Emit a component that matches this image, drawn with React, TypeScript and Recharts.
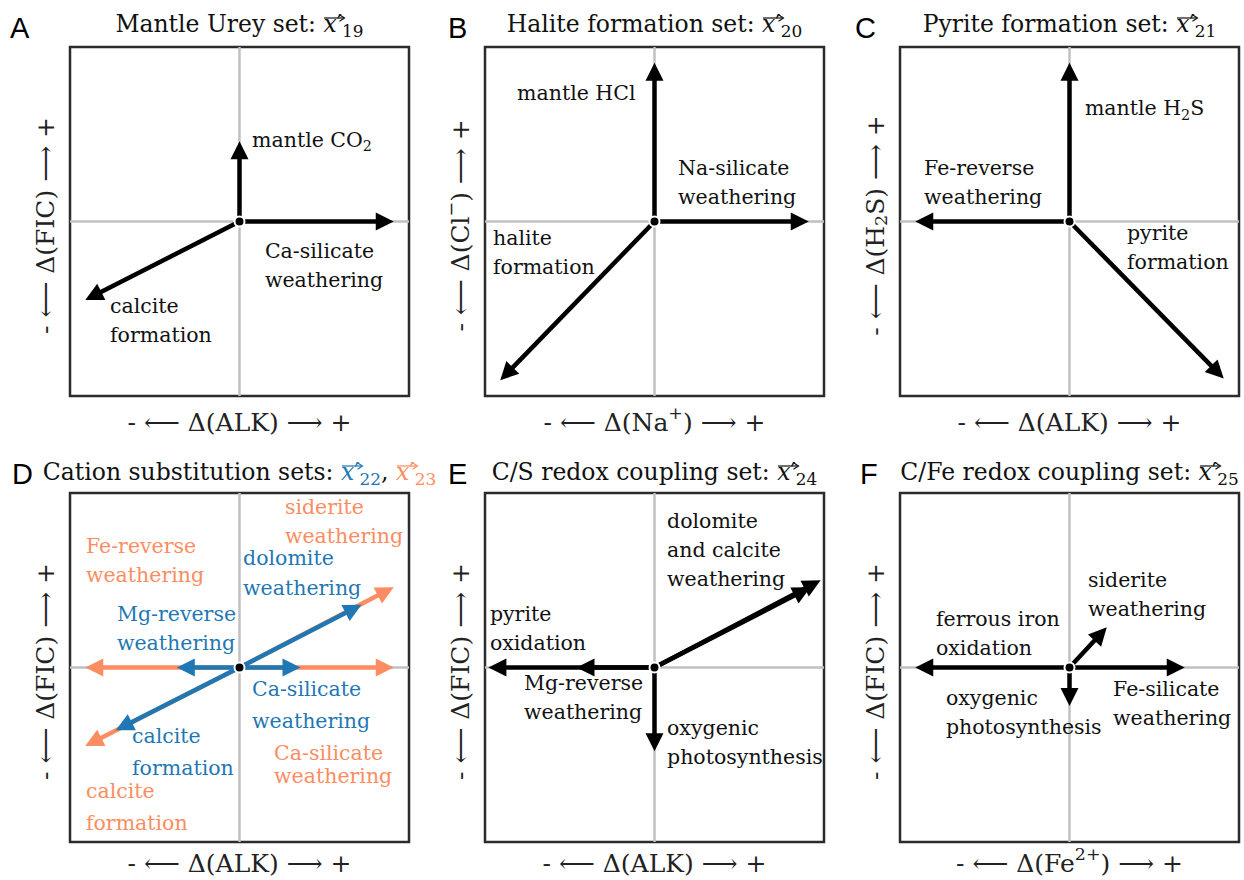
import React from 'react';
import { ScatterChart, Scatter, XAxis, YAxis, ReferenceLine, ReferenceArea } from 'recharts';

const SERIF = "'DejaVu Serif', serif";
const SANS = "'Liberation Sans', 'DejaVu Sans', Arial, sans-serif";
const INK = '#111111';
const BLUE = '#1f77b4';
const ORANGE = '#fc8d62';
const GRID = '#c0c0c0';

const CHART_W = 415;
const CHART_H = 436;
const LABEL_FS = 20.5;
const TITLE_FS = 23.5;
const AXIS_FS = 25;

// process vectors, both axes scaled to [-1, 1]
const mantleUrey = [
  { name: 'mantle CO2', x: 0, y: 0.46 },
  { name: 'Ca-silicate weathering', x: 0.91, y: 0 },
  { name: 'calcite formation', x: -0.91, y: -0.45 },
];
const haliteFormation = [
  { name: 'mantle HCl', x: 0, y: 0.91 },
  { name: 'Na-silicate weathering', x: 0.91, y: 0 },
  { name: 'halite formation', x: -0.91, y: -0.91 },
];
const pyriteFormation = [
  { name: 'mantle H2S', x: 0, y: 0.91 },
  { name: 'Fe-reverse weathering', x: -0.91, y: 0 },
  { name: 'pyrite formation', x: 0.91, y: -0.9 },
];
const cationSub22 = [
  { name: 'dolomite weathering', x: 0.72, y: 0.36 },
  { name: 'Mg-reverse weathering', x: -0.37, y: 0 },
  { name: 'Ca-silicate weathering', x: 0.36, y: 0 },
  { name: 'calcite formation', x: -0.73, y: -0.36 },
];
const cationSub23 = [
  { name: 'siderite weathering', x: 0.91, y: 0.46 },
  { name: 'Fe-reverse weathering', x: -0.91, y: 0 },
  { name: 'Ca-silicate weathering', x: 0.91, y: 0 },
  { name: 'calcite formation', x: -0.91, y: -0.45 },
];
const csRedox = [
  { name: 'pyrite oxidation', x: -0.98, y: 0 },
  { name: 'Mg-reverse weathering', x: -0.46, y: 0 },
  { name: 'oxygenic photosynthesis', x: 0, y: -0.48 },
  { name: 'calcite weathering', x: 0.92, y: 0.46 },
  { name: 'dolomite weathering', x: 0.98, y: 0.5 },
];
const cfeRedox = [
  { name: 'ferrous iron oxidation', x: -0.91, y: 0 },
  { name: 'Fe-silicate weathering', x: 0.68, y: 0 },
  { name: 'oxygenic photosynthesis', x: 0, y: -0.22 },
  { name: 'siderite weathering', x: 0.22, y: 0.23 },
];

const origin = [{ x: 0, y: 0 }];

// text annotations (anchor = left end of first baseline, in data units)
const labelsA = [
  { lines: ['mantle CO_{2}'], x: 0.074, y: 0.427 },
  { lines: ['Ca-silicate', 'weathering'], x: 0.15, y: -0.209 },
  { lines: ['calcite', 'formation'], x: -0.764, y: -0.524 },
];
const labelsB = [
  { lines: ['mantle HCl'], x: -0.811, y: 0.696 },
  { lines: ['Na-silicate', 'weathering'], x: 0.139, y: 0.266 },
  { lines: ['halite', 'formation'], x: -0.953, y: -0.135 },
];
const labelsC = [
  { lines: ['mantle H_{2}S'], x: 0.091, y: 0.61 },
  { lines: ['Fe-reverse', 'weathering'], x: -0.858, y: 0.266 },
  { lines: ['pyrite', 'formation'], x: 0.339, y: -0.106 },
];
const labelsD = [
  { lines: ['siderite', 'weathering'], x: 0.268, y: 0.88, color: ORANGE },
  { lines: ['Fe-reverse', 'weathering'], x: -0.906, y: 0.656, color: ORANGE },
  { lines: ['Ca-silicate', 'weathering'], x: 0.204, y: -0.53, color: ORANGE, gap: 23 },
  { lines: ['calcite', 'formation'], x: -0.906, y: -0.748, color: ORANGE, gap: 32 },
  { lines: ['dolomite', 'weathering'], x: 0.021, y: 0.587, color: BLUE, gap: 30 },
  { lines: ['Mg-reverse', 'weathering'], x: -0.723, y: 0.266, color: BLUE },
  { lines: ['Ca-silicate', 'weathering'], x: 0.074, y: -0.163, color: BLUE, gap: 32 },
  { lines: ['calcite', 'formation'], x: -0.634, y: -0.433, color: BLUE, gap: 32 },
];
const labelsE = [
  { lines: ['dolomite', 'and calcite', 'weathering'], x: 0.074, y: 0.799 },
  { lines: ['pyrite', 'oxidation'], x: -0.971, y: 0.266 },
  { lines: ['Mg-reverse', 'weathering'], x: -0.77, y: -0.129 },
  { lines: ['oxygenic', 'photosynthesis'], x: 0.074, y: -0.387 },
];
const labelsF = [
  { lines: ['siderite', 'weathering'], x: 0.109, y: 0.461 },
  { lines: ['ferrous iron', 'oxidation'], x: -0.788, y: 0.238 },
  { lines: ['oxygenic', 'photosynthesis'], x: -0.729, y: -0.215 },
  { lines: ['Fe-silicate', 'weathering'], x: 0.257, y: -0.163 },
];

// "_{..}" subscript, "^{..}" superscript
const rich = (s: string, fs: number) => {
  const parts = s.split(/([_^]\{[^}]*\})/);
  const out: any[] = [];
  let shift = 0;
  parts.forEach((part, i) => {
    if (!part) return;
    const m = part.match(/^([_^])\{(.*)\}$/);
    if (m) {
      const d = m[1] === '_' ? fs * 0.22 : -fs * 0.36;
      out.push(<tspan key={i} dy={d - shift} fontSize={fs * 0.7}>{m[2]}</tspan>);
      shift = d;
    } else {
      out.push(<tspan key={i} dy={-shift}>{part}</tspan>);
      shift = 0;
    }
  });
  return out;
};

const arrowShape = (color: string) => (p: any) => {
  const { x1, y1, x2, y2 } = p;
  if ([x1, y1, x2, y2].some((v) => v == null || Number.isNaN(v))) return <g />;
  const dx = x2 - x1;
  const dy = y2 - y1;
  const len = Math.hypot(dx, dy) || 1;
  const ux = dx / len;
  const uy = dy / len;
  const hl = 18;
  const hw = 9;
  const bx = x2 - ux * hl;
  const by = y2 - uy * hl;
  return (
    <g>
      <line x1={x1} y1={y1} x2={bx + ux * 2} y2={by + uy * 2} stroke={color} strokeWidth={4.5} />
      <polygon
        points={`${x2},${y2} ${bx - uy * hw},${by + ux * hw} ${bx + uy * hw},${by - ux * hw}`}
        fill={color}
      />
    </g>
  );
};

const renderDot = (p: any) => (
  <circle cx={p.cx} cy={p.cy} r={5} fill="#000" stroke="#fff" strokeWidth={2} />
);

const renderLabel = (p: any) => {
  const { cx, cy, payload } = p;
  const gap = payload.gap ?? 29;
  return (
    <g>
      {payload.lines.map((ln: string, i: number) => (
        <text key={i} x={cx} y={cy + i * gap} fontSize={LABEL_FS} fontFamily={SERIF} fill={payload.color ?? INK}>
          {rich(ln, LABEL_FS)}
        </text>
      ))}
    </g>
  );
};

const xAxisLabel = (core: string, offset: number) => (props: any) => {
  const vb = props.viewBox ?? { x: 70, y: 396, width: 339, height: 40 };
  const cx = vb.x + vb.width / 2;
  const cy = vb.y + offset;
  return (
    <text x={cx} y={cy} textAnchor="middle" dominantBaseline="central" fontSize={AXIS_FS} fontFamily={SERIF} fill="#222">
      {rich(`- ⟵ ${core} ⟶ +`, AXIS_FS)}
    </text>
  );
};

const yAxisLabel = (core: string) => (props: any) => {
  const vb = props.viewBox ?? { x: 0, y: 47, width: 70, height: 349 };
  const cx = vb.x + vb.width - 25;
  const cy = vb.y + vb.height / 2 + 4;
  return (
    <text
      x={cx}
      y={cy}
      transform={`rotate(-90 ${cx} ${cy})`}
      textAnchor="middle"
      dominantBaseline="central"
      fontSize={AXIS_FS}
      fontFamily={SERIF}
      fill="#222"
    >
      {rich(`- ⟵ ${core} ⟶ +`, AXIS_FS)}
    </text>
  );
};

const Vec = ({ sub, color }: { sub: string; color: string }) => (
  <span style={{ color, whiteSpace: 'nowrap' }}>
    <span style={{ position: 'relative', display: 'inline-block' }}>
      <span style={{ fontStyle: 'italic' }}>x</span>
      <span>′</span>
      <svg width="22" height="10" style={{ position: 'absolute', left: 0, top: 0, overflow: 'visible' }}>
        <line x1="1" y1="5" x2="21" y2="5" stroke={color} strokeWidth="1.2" />
        <polyline points="16.5,1.8 21.5,5 16.5,8.2" fill="none" stroke={color} strokeWidth="1.2" />
      </svg>
    </span>
    <span style={{ fontSize: '0.72em', position: 'relative', top: '0.28em' }}>{sub}</span>
  </span>
);

const panels = [
  {
    letter: 'A', left: 0, top: 0, letterX: 10, titleTop: 13, xOff: 26,
    title: <>Mantle Urey set: <Vec sub="19" color={INK} /></>,
    xCore: 'Δ(ALK)', yCore: 'Δ(FIC)',
    groups: [{ data: mantleUrey, color: '#000' }], labels: labelsA,
  },
  {
    letter: 'B', left: 415, top: 0, letterX: 33, titleTop: 13, xOff: 26,
    title: <>Halite formation set: <Vec sub="20" color={INK} /></>,
    xCore: 'Δ(Na^{+})', yCore: 'Δ(Cl^{−})',
    groups: [{ data: haliteFormation, color: '#000' }], labels: labelsB,
  },
  {
    letter: 'C', left: 830, top: 0, letterX: 25, titleTop: 13, xOff: 26,
    title: <>Pyrite formation set: <Vec sub="21" color={INK} /></>,
    xCore: 'Δ(ALK)', yCore: 'Δ(H_{2}S)',
    groups: [{ data: pyriteFormation, color: '#000' }], labels: labelsC,
  },
  {
    letter: 'D', left: 0, top: 446, letterX: 12, titleTop: 15, xOff: 21,
    title: <>Cation substitution sets: <Vec sub="22" color={BLUE} />, <Vec sub="23" color={ORANGE} /></>,
    xCore: 'Δ(ALK)', yCore: 'Δ(FIC)',
    groups: [{ data: cationSub23, color: ORANGE }, { data: cationSub22, color: BLUE }], labels: labelsD,
  },
  {
    letter: 'E', left: 415, top: 446, letterX: 33, titleTop: 15, xOff: 21,
    title: <>C/S redox coupling set: <Vec sub="24" color={INK} /></>,
    xCore: 'Δ(ALK)', yCore: 'Δ(FIC)',
    groups: [{ data: csRedox, color: '#000' }], labels: labelsE,
  },
  {
    letter: 'F', left: 830, top: 446, letterX: 30, titleTop: 15, xOff: 21,
    title: <>C/Fe redox coupling set: <Vec sub="25" color={INK} /></>,
    xCore: 'Δ(Fe^{2+})', yCore: 'Δ(FIC)',
    groups: [{ data: cfeRedox, color: '#000' }], labels: labelsF,
  },
];

const Panel = ({ p }: { p: (typeof panels)[number] }) => (
  <div style={{ position: 'absolute', left: p.left, top: p.top, width: CHART_W, height: CHART_H }}>
    <div
      style={{
        position: 'absolute', left: p.letterX, top: 13.5, fontFamily: SANS, fontSize: 29,
        lineHeight: 1, color: '#000',
      }}
    >
      {p.letter}
    </div>
    <div
      style={{
        position: 'absolute', left: 239.5 - 250, top: p.titleTop, width: 500, textAlign: 'center',
        fontFamily: SERIF, fontSize: TITLE_FS, lineHeight: 1, color: INK, whiteSpace: 'nowrap',
      }}
    >
      {p.title}
    </div>
    <ScatterChart width={CHART_W} height={CHART_H} margin={{ top: 47, right: 6, bottom: 0, left: 0 }}>
      <XAxis
        type="number" dataKey="x" domain={[-1, 1]} allowDataOverflow
        tick={false} tickLine={false} axisLine={false} height={40}
        label={xAxisLabel(p.xCore, p.xOff)}
      />
      <YAxis
        type="number" dataKey="y" domain={[-1, 1]} allowDataOverflow
        tick={false} tickLine={false} axisLine={false} width={70}
        label={yAxisLabel(p.yCore)}
      />
      <ReferenceLine x={0} stroke={GRID} strokeWidth={2.5} />
      <ReferenceLine y={0} stroke={GRID} strokeWidth={2.5} />
      {p.groups.map((g, gi) =>
        g.data.map((v, vi) => (
          <ReferenceLine
            key={`${gi}-${vi}`}
            segment={[{ x: 0, y: 0 }, { x: v.x, y: v.y }]}
            ifOverflow="visible"
            shape={arrowShape(g.color)}
          />
        )),
      )}
      <ReferenceArea x1={-1} x2={1} y1={-1} y2={1} fill="none" stroke="#2b2b2b" strokeWidth={2.5} ifOverflow="visible" />
      <Scatter data={origin} shape={renderDot} isAnimationActive={false} />
      <Scatter data={p.labels} shape={renderLabel} isAnimationActive={false} />
    </ScatterChart>
  </div>
);

export default function App() {
  return (
    <div style={{ position: 'absolute', left: 0, top: 0, width: 1244, height: 880, overflow: 'hidden', background: '#fff' }}>
      {panels.map((p) => (
        <Panel key={p.letter} p={p} />
      ))}
    </div>
  );
}
